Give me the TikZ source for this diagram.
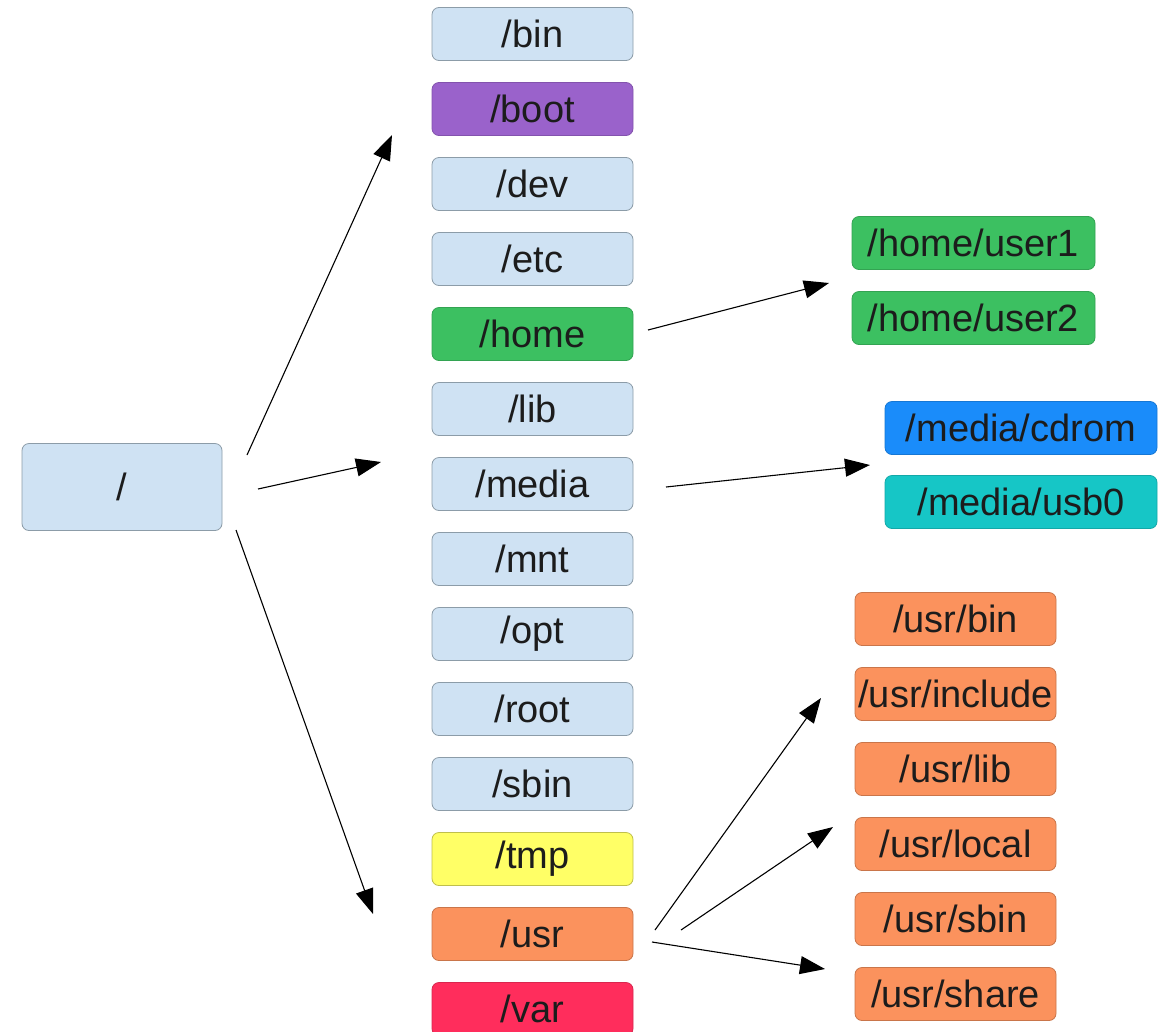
\documentclass[tikz,border=0pt]{standalone}
\usepackage{fontspec}
\setmainfont{Liberation Sans}
\usetikzlibrary{arrows.meta}
\definecolor{lblue}{HTML}{CFE2F3}
\definecolor{lbord}{HTML}{8C9CA8}
\definecolor{cpurple}{HTML}{9A62CB}
\definecolor{cgreen}{HTML}{3CC061}
\definecolor{cblue}{HTML}{1A8CFA}
\definecolor{ccyan}{HTML}{16C6C6}
\definecolor{corange}{HTML}{FB925D}
\definecolor{cyellow}{HTML}{FFFF66}
\definecolor{cred}{HTML}{FF2D5C}
\definecolor{txt}{HTML}{1C1C1C}
\begin{document}
\begin{tikzpicture}[x=1pt,y=-1pt,
  box/.style={rounded corners=7pt, minimum height=53pt, inner sep=0pt, text=txt,
    font=\fontsize{38}{40}\selectfont, line width=0.8pt},
  mid/.style={box, minimum width=201pt},
  lb/.style={fill=lblue, draw=lbord},
  pu/.style={fill=cpurple, draw=cpurple!85!black},
  gr/.style={fill=cgreen, draw=cgreen!85!black},
  bl/.style={fill=cblue, draw=cblue!85!black},
  cy/.style={fill=ccyan, draw=ccyan!85!black},
  or/.style={fill=corange, draw=corange!80!black},
  ye/.style={fill=cyellow, draw=cyellow!75!black},
  rd/.style={fill=cred, draw=cred!85!black},
  arr/.style={-{Triangle[length=25pt,width=18pt]}, line width=1.1pt, black}]
\clip (0,0) rectangle (1166,1031);
\fill[white] (0,0) rectangle (1166,1031);

\node[box, lb, minimum width=200pt, minimum height=87pt] (slash) at (122,487) {/};

\foreach \n/\c [count=\i from 0] in {bin/lb, boot/pu, dev/lb, etc/lb, home/gr, lib/lb, media/lb, mnt/lb, opt/lb, root/lb, sbin/lb, tmp/ye, usr/or, var/rd}
  \node[mid, \c] (\n) at (532.5, 34+75*\i) {/\n};

\node[box, gr, minimum width=243pt] (user1) at (973.5,243) {/home/user1};
\node[box, gr, minimum width=243pt] (user2) at (973.5,318) {/home/user2};

\node[box, bl, minimum width=272pt] (cdrom) at (1021,428) {/media/cdrom};
\node[box, cy, minimum width=272pt] (usb0) at (1021,502) {/media/usb0};

\foreach \n [count=\i from 0] in {bin, include, lib, local, sbin, share}
  \node[box, or, minimum width=201pt] (usr\n) at (955.5, 619+75*\i) {/usr/\n};

\coordinate (s1) at (247,455);  \coordinate (e1) at (392,135);
\coordinate (s2) at (258,489);  \coordinate (e2) at (381,462);
\coordinate (s3) at (236,530);  \coordinate (e3) at (373,914);
\coordinate (s4) at (648,330);  \coordinate (e4) at (829,283);
\coordinate (s5) at (666,487);  \coordinate (e5) at (870,465);
\coordinate (s6) at (655,930);  \coordinate (e6) at (821,698);
\coordinate (s7) at (681,930);  \coordinate (e7) at (833,827);
\coordinate (s8) at (652,942);  \coordinate (e8) at (825,969);

\draw[arr] (s1) -- (e1);
\draw[arr] (s2) -- (e2);
\draw[arr] (s3) -- (e3);
\draw[arr] (s4) -- (e4);
\draw[arr] (s5) -- (e5);
\draw[arr] (s6) -- (e6);
\draw[arr] (s7) -- (e7);
\draw[arr] (s8) -- (e8);
\end{tikzpicture}
\end{document}
